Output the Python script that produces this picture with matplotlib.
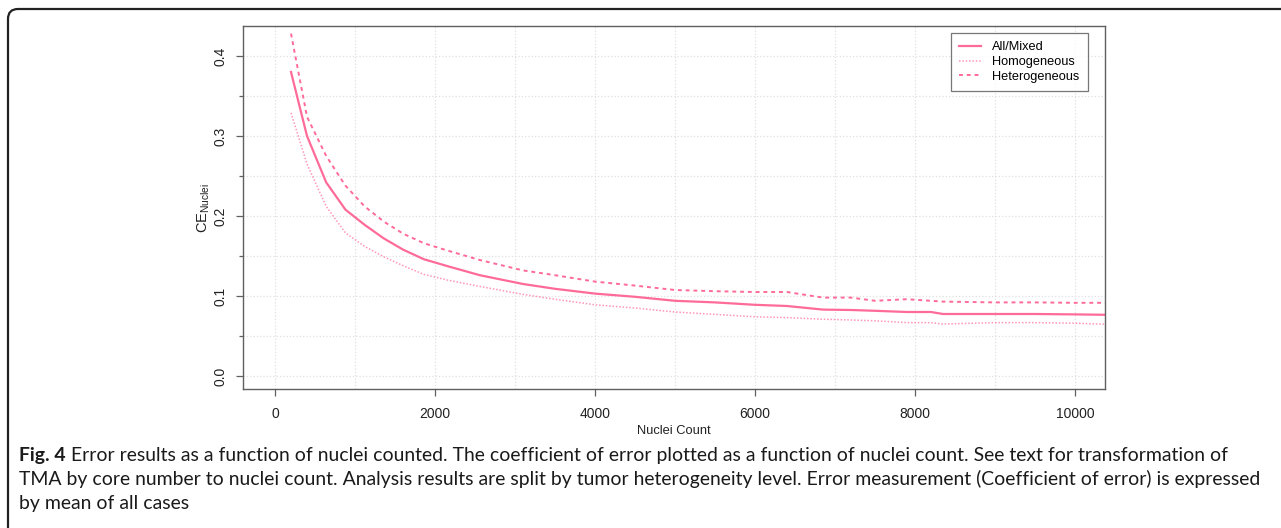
import numpy as np
import matplotlib
matplotlib.use("Agg")
import matplotlib.pyplot as plt
import matplotlib.patches as mpatches
from matplotlib.transforms import IdentityTransform
from matplotlib.ticker import MultipleLocator

# nuclei count at each point (cores converted to nuclei)
nuclei = [200, 400, 640, 880, 1120, 1360, 1600, 1860, 2150, 2560, 3100, 3500,
          4000, 4500, 5000, 5500, 6000, 6400, 6850, 7200, 7500, 7900, 8200,
          8350, 9000, 9500, 10000, 10400]
ce_all = [0.380, 0.300, 0.242, 0.208, 0.189, 0.172, 0.158, 0.146, 0.1375, 0.126,
          0.115, 0.109, 0.103, 0.099, 0.094, 0.092, 0.089, 0.0875, 0.083, 0.0825,
          0.0815, 0.080, 0.080, 0.0775, 0.0775, 0.0775, 0.077, 0.0765]
ce_homog = [0.329, 0.265, 0.212, 0.179, 0.162, 0.149, 0.138, 0.127, 0.120, 0.112,
            0.102, 0.096, 0.089, 0.085, 0.080, 0.077, 0.074, 0.073, 0.071, 0.070,
            0.069, 0.0667, 0.0667, 0.065, 0.0667, 0.0667, 0.066, 0.0646]
ce_heterog = [0.428, 0.324, 0.275, 0.238, 0.212, 0.193, 0.178, 0.166, 0.157, 0.145,
              0.132, 0.126, 0.118, 0.113, 0.1075, 0.106, 0.105, 0.105, 0.098, 0.098,
              0.094, 0.096, 0.094, 0.093, 0.092, 0.092, 0.0915, 0.0915]

caption = [
    ("Fig. 4", " Error results as a function of nuclei counted. The coefficient of error plotted as a function of nuclei count. See text for transformation of"),
    ("", "TMA by core number to nuclei count. Analysis results are split by tumor heterogeneity level. Error measurement (Coefficient of error) is expressed"),
    ("", "by mean of all cases"),
]

W, H = 1281, 528
pink = "#ff6b98"
axc = "#606060"
plt.rcParams["font.family"] = ["Liberation Sans", "DejaVu Sans"]

fig = plt.figure(figsize=(W / 100, H / 100), dpi=100)
ax = fig.add_axes([243 / W, 1 - 389 / H, (1105 - 243) / W, (389 - 26) / H])

ax.plot(nuclei, ce_all, color=pink, lw=1.6, label="All/Mixed")
ax.plot(nuclei, ce_homog, color=pink, lw=1.1, alpha=0.7, dashes=(1, 1.2), label="Homogeneous")
ax.plot(nuclei, ce_heterog, color=pink, lw=1.4, dashes=(2, 2), label="Heterogeneous")

ax.set_xlim(-400, 10375)
ax.set_ylim(-0.01625, 0.4375)
ax.xaxis.set_major_locator(MultipleLocator(2000))
ax.xaxis.set_minor_locator(MultipleLocator(1000))
ax.yaxis.set_major_locator(MultipleLocator(0.1))
ax.yaxis.set_minor_locator(MultipleLocator(0.05))
ax.set_yticklabels([f"{v:.1f}" for v in ax.get_yticks()])
ax.grid(True, which="both", color="#e0e0e0", ls=":", lw=0.9)
ax.set_axisbelow(True)
ax.tick_params(which="major", length=5, width=0.9, color=axc, labelsize=10, labelcolor="#222", pad=8)
ax.tick_params(axis="y", which="major", pad=6)
ax.tick_params(axis="x", which="minor", length=0)
ax.tick_params(axis="y", which="minor", length=3, width=0.9, color=axc)
for lbl in ax.get_yticklabels():
    lbl.set_rotation(90)
    lbl.set_va("center")
for s in ax.spines.values():
    s.set_color(axc)
    s.set_linewidth(1.0)

ax.set_xlabel("Nuclei Count", fontsize=9.3, color="#222", labelpad=3)
ax.set_ylabel("CE$_{\\mathregular{Nuclei}}$", fontsize=10.5, color="#222", labelpad=1)

leg = ax.legend(loc="upper right", bbox_to_anchor=(1088 / W, 1 - 33 / H),
                bbox_transform=fig.transFigure, fontsize=9.2, frameon=True,
                fancybox=False, edgecolor="#555", handlelength=1.7,
                handletextpad=0.9, labelspacing=0.22, borderpad=0.65,
                borderaxespad=0)
leg.get_frame().set_linewidth(0.9)

# rounded page border
border = mpatches.FancyBboxPatch((8, -20), 1320, H - 9 + 20,
                                 boxstyle="round,pad=0,rounding_size=10",
                                 transform=IdentityTransform(), fill=False,
                                 ec="#222222", lw=1.6)
fig.add_artist(border)

# caption
cap_font = ["Lato", "DejaVu Sans"]
renderer = fig.canvas.get_renderer()
probe = fig.text(0, 0, caption[1][1], fontsize=14, family=cap_font)
pw = probe.get_window_extent(renderer).width
probe.remove()
cap_size = 14 * (1262 - 19) / pw

ys = [455, 479, 503]
for (bold, rest), y in zip(caption, ys):
    x0 = 19
    if bold:
        t = fig.text(x0 / W, 1 - y / H, bold, fontsize=cap_size, family=cap_font,
                     weight="bold", va="center", color="#1a1a1a")
        x0 += t.get_window_extent(renderer).width
    fig.text(x0 / W, 1 - y / H, rest, fontsize=cap_size, family=cap_font,
             va="center", color="#1a1a1a")

fig.savefig("out.png", dpi=100)
